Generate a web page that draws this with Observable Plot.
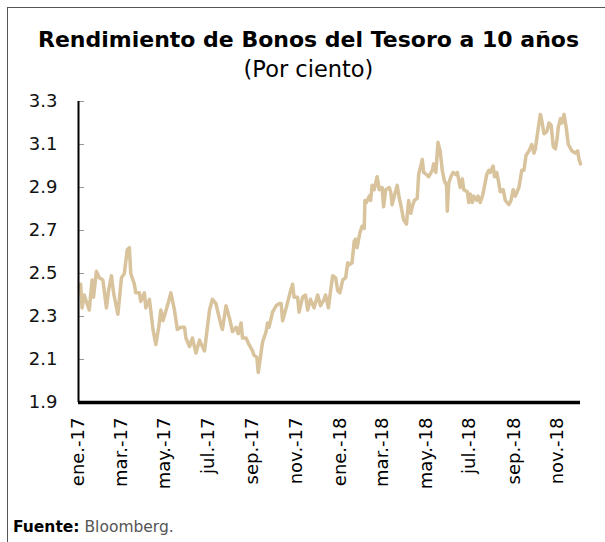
<!DOCTYPE html>
<html><head><meta charset="utf-8">
<script src="https://cdn.jsdelivr.net/npm/d3@7"></script>
<script src="https://cdn.jsdelivr.net/npm/@observablehq/plot@0.6"></script>
<style>
html,body{margin:0;padding:0;background:#fff;}
#wrap{position:relative;width:605px;height:542px;overflow:hidden;font-family:"DejaVu Sans",sans-serif;color:#000;}
#frame{position:absolute;left:7px;top:7px;width:640px;height:600px;border-left:1px solid #555;border-top:1px solid #555;}
#title{position:absolute;left:7px;width:603px;top:29px;text-align:center;font-weight:bold;font-size:22px;line-height:22px;white-space:nowrap;}
#subtitle{position:absolute;left:7px;width:603px;top:58px;text-align:center;font-size:22.5px;line-height:22.5px;white-space:nowrap;}
#chart{position:absolute;left:0;top:90px;}
#source{position:absolute;left:13px;top:520px;font-size:15.5px;line-height:15.5px;white-space:nowrap;}
#source span{color:#555;}
</style>
</head><body>
<div id="wrap">
  <div id="frame"></div>
  <div id="title">Rendimiento de Bonos del Tesoro a 10 años</div>
  <div id="subtitle">(Por ciento)</div>
  <div id="chart"></div>
  <div id="source"><b>Fuente:</b> <span>Bloomberg.</span></div>
</div>
<script>
const dates = [
"2017-01-02","2017-01-04","2017-01-06","2017-01-09","2017-01-12","2017-01-16","2017-01-20","2017-01-22","2017-01-26","2017-01-30",
"2017-02-04","2017-02-09","2017-02-12","2017-02-16","2017-02-19","2017-02-25","2017-03-02","2017-03-06","2017-03-10","2017-03-13",
"2017-03-15","2017-03-20","2017-03-22","2017-03-27","2017-03-29","2017-04-03","2017-04-05","2017-04-10","2017-04-15","2017-04-19",
"2017-04-23","2017-04-26","2017-04-29","2017-05-06","2017-05-10","2017-05-15","2017-05-19","2017-05-24","2017-05-29","2017-05-31",
"2017-06-05","2017-06-09","2017-06-14","2017-06-19","2017-06-23","2017-06-26","2017-06-30","2017-07-03","2017-07-07","2017-07-12",
"2017-07-14","2017-07-19","2017-07-21","2017-07-26","2017-07-31","2017-08-04","2017-08-09","2017-08-12","2017-08-16","2017-08-18",
"2017-08-23","2017-08-27","2017-09-01","2017-09-03","2017-09-07","2017-09-09","2017-09-12","2017-09-15","2017-09-20","2017-09-22",
"2017-09-24","2017-09-29","2017-10-04","2017-10-08","2017-10-11","2017-10-13","2017-10-18","2017-10-21","2017-10-25","2017-10-27",
"2017-10-29","2017-11-03","2017-11-05","2017-11-10","2017-11-14","2017-11-17","2017-11-21","2017-11-26","2017-12-01","2017-12-05",
"2017-12-10","2017-12-12","2017-12-16","2017-12-19","2017-12-22","2017-12-26","2017-12-29",
"2018-01-01","2018-01-05","2018-01-09","2018-01-12","2018-01-14","2018-01-18","2018-01-21","2018-01-23","2018-01-25","2018-01-29",
"2018-02-01","2018-02-04","2018-02-05","2018-02-07","2018-02-11","2018-02-13","2018-02-15","2018-02-18","2018-02-22","2018-02-25",
"2018-03-01","2018-03-03","2018-03-06","2018-03-11","2018-03-13","2018-03-15","2018-03-18","2018-03-22","2018-03-25","2018-03-27",
"2018-03-31","2018-04-04","2018-04-07","2018-04-10","2018-04-12","2018-04-15","2018-04-19","2018-04-21","2018-04-26","2018-04-28",
"2018-05-02","2018-05-05","2018-05-10","2018-05-12","2018-05-15","2018-05-18","2018-05-21","2018-05-24","2018-05-27","2018-05-30",
"2018-05-31","2018-06-02","2018-06-05","2018-06-08","2018-06-12","2018-06-14","2018-06-18","2018-06-21","2018-06-23","2018-06-28",
"2018-06-30","2018-07-02","2018-07-05","2018-07-07","2018-07-11","2018-07-13","2018-07-16","2018-07-19","2018-07-21","2018-07-25",
"2018-07-28","2018-07-30","2018-08-03","2018-08-05","2018-08-08","2018-08-11","2018-08-13","2018-08-17","2018-08-20","2018-08-25",
"2018-08-28","2018-08-31","2018-09-03","2018-09-08","2018-09-10","2018-09-12","2018-09-15","2018-09-18","2018-09-22","2018-09-26",
"2018-09-29","2018-10-01","2018-10-06","2018-10-08","2018-10-10","2018-10-13","2018-10-17","2018-10-20","2018-10-23","2018-10-26",
"2018-10-29","2018-10-31","2018-11-02","2018-11-05","2018-11-07","2018-11-10","2018-11-13","2018-11-16","2018-11-21","2018-11-26",
"2018-11-29","2018-12-01","2018-12-03"
];
const yields = [
2.44,2.45,2.34,2.40,2.37,2.33,2.47,2.39,2.51,2.48,
2.47,2.34,2.42,2.49,2.41,2.31,2.48,2.50,2.61,2.62,
2.50,2.45,2.41,2.41,2.37,2.41,2.34,2.38,2.24,2.17,
2.25,2.33,2.28,2.36,2.41,2.33,2.24,2.25,2.25,2.20,
2.16,2.20,2.13,2.19,2.16,2.14,2.25,2.33,2.38,2.36,
2.33,2.26,2.24,2.35,2.29,2.23,2.25,2.22,2.27,2.20,
2.20,2.17,2.14,2.12,2.11,2.04,2.11,2.18,2.23,2.27,
2.25,2.32,2.35,2.36,2.36,2.28,2.34,2.38,2.43,2.45,
2.39,2.39,2.32,2.39,2.40,2.33,2.38,2.34,2.40,2.35,
2.38,2.40,2.34,2.42,2.49,2.48,2.42,
2.41,2.47,2.48,2.55,2.54,2.55,2.65,2.66,2.62,2.69,
2.72,2.71,2.84,2.83,2.86,2.84,2.91,2.89,2.95,2.89,
2.90,2.81,2.89,2.90,2.88,2.82,2.86,2.91,2.85,2.82,
2.75,2.73,2.84,2.78,2.81,2.84,2.85,2.96,3.03,2.97,
2.96,2.95,2.98,3.01,2.97,3.11,3.07,2.98,2.93,2.91,
2.79,2.92,2.95,2.97,2.96,2.97,2.90,2.94,2.89,2.88,
2.83,2.87,2.83,2.86,2.84,2.86,2.83,2.86,2.89,2.96,
2.98,2.97,3.00,2.95,2.97,2.92,2.88,2.89,2.84,2.82,
2.84,2.89,2.86,2.90,2.94,2.98,2.98,3.05,3.07,3.10,
3.06,3.08,3.20,3.24,3.21,3.15,3.16,3.20,3.19,3.09,
3.08,3.12,3.18,3.22,3.20,3.24,3.18,3.10,3.07,3.06,
3.07,3.03,3.01
];
const yTicks = [1.9, 2.1, 2.3, 2.5, 2.7, 2.9, 3.1, 3.3];
const xTickDates = ["2017-01-01","2017-03-01","2017-05-01","2017-07-01","2017-09-01","2017-11-01","2018-01-01","2018-03-01","2018-05-01","2018-07-01","2018-09-01","2018-11-01"];
const xTickLabels = ["ene.-17","mar.-17","may.-17","jul.-17","sep.-17","nov.-17","ene.-18","mar.-18","may.-18","jul.-18","sep.-18","nov.-18"];
const xDomain = ["2017-01-01","2018-12-03"];

const data = dates.map((d, i) => ({date: new Date(d), value: yields[i]}));
const tickDates = xTickDates.map(d => new Date(d));
const labelMap = new Map(tickDates.map((d, i) => [+d, xTickLabels[i]]));
const domain = xDomain.map(d => new Date(d));

const chart = Plot.plot({
  width: 605, height: 410,
  marginTop: 11, marginBottom: 98, marginLeft: 78, marginRight: 25,
  style: {fontFamily: "DejaVu Sans, sans-serif", fontSize: "18px", color: "#000", background: "transparent", overflow: "visible"},
  x: {type: "utc", domain},
  y: {domain: [yTicks[0], yTicks[yTicks.length - 1]]},
  marks: [
    Plot.lineY(data, {x: "date", y: "value", stroke: "#D8C39C", strokeWidth: 3.5, strokeLinejoin: "round"}),
    Plot.axisY({ticks: yTicks, tickSize: 6, dx: 6, tickFormat: () => "", stroke: "#999", label: null}),
    Plot.axisY({ticks: yTicks, tickSize: 0, tickPadding: 21, tickFormat: d => d.toFixed(1), label: null, fontSize: 18, fill: "#111"}),
    Plot.axisX({ticks: tickDates, tickSize: 0, tickPadding: 15, tickRotate: -90, tickFormat: d => labelMap.get(+d), label: null, fontSize: 18, fill: "#000"}),
    Plot.ruleX([domain[0]], {stroke: "#000", strokeWidth: 2}),
    Plot.ruleY([yTicks[0]], {stroke: "#000", strokeWidth: 3.5})
  ]
});
document.getElementById("chart").appendChild(chart);
</script>
</body></html>
